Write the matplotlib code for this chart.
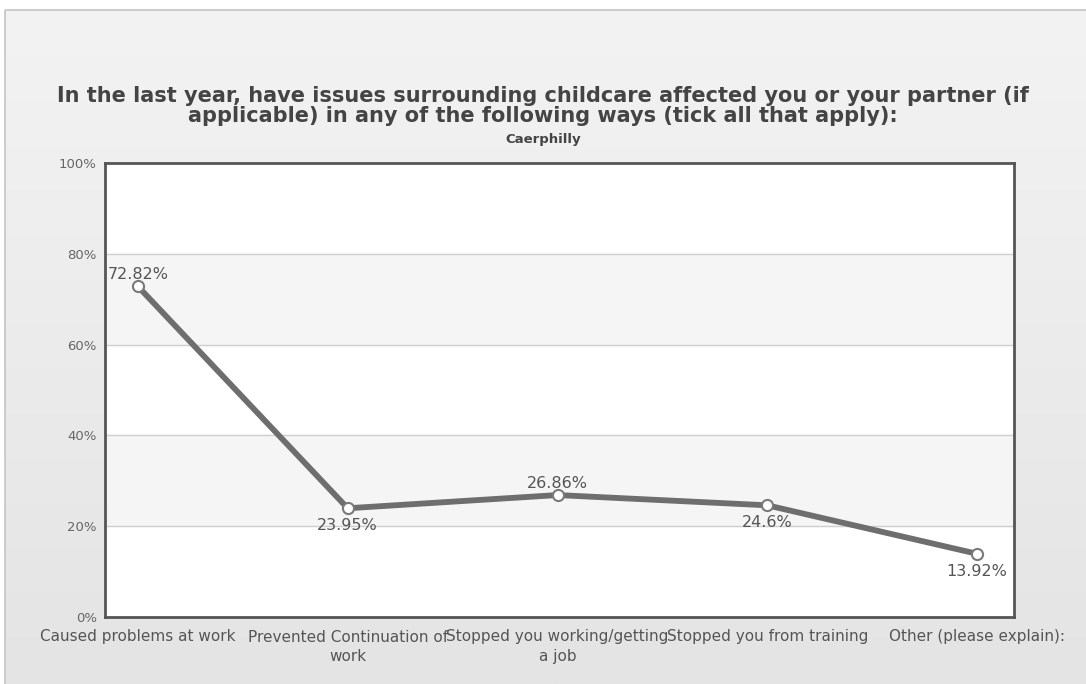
import matplotlib
matplotlib.use("Agg")
import matplotlib.pyplot as plt
import numpy as np
from matplotlib.patches import Rectangle

categories = ["Caused problems at work", "Prevented Continuation of\nwork",
              "Stopped you working/getting\na job", "Stopped you from training",
              "Other (please explain):"]
values = [72.82, 23.95, 26.86, 24.6, 13.92]
labels = ["72.82%", "23.95%", "26.86%", "24.6%", "13.92%"]
label_pos = ["above", "below", "above", "below", "below"]
yticks = [0, 20, 40, 60, 80, 100]
ytick_labels = ["0%", "20%", "40%", "60%", "80%", "100%"]

W, H = 1086, 684
fig = plt.figure(figsize=(W / 100, H / 100), dpi=100, facecolor="white")

# background gradient panel
bg = fig.add_axes([0, 0, 1, 1], zorder=-10)
bg.set_xlim(0, W)
bg.set_ylim(H, 0)
bg.axis("off")
grad = np.linspace(0, 1, 256).reshape(-1, 1)
bg.imshow(grad, extent=[5, W, H, 10], cmap=matplotlib.colors.LinearSegmentedColormap.from_list(
    "g", ["#f3f3f3", "#e4e4e4"]), aspect="auto", zorder=0)
bg.add_patch(Rectangle((5, 10), W, H, fill=False, edgecolor="#c4c4c4", linewidth=1.2, zorder=1))

ax = fig.add_axes([105 / W, 1 - 617 / H, (1014 - 105) / W, (617 - 163) / H])
ax.set_facecolor("white")
x = np.arange(len(categories))

# alternating bands
for i in range(0, 5):
    if i % 2 == 1:
        ax.axhspan(yticks[i], yticks[i + 1], color="#f5f5f5", zorder=0)
for yv in yticks[1:-1]:
    ax.axhline(yv, color="#cfcfcf", linewidth=1, zorder=1)

ax.plot(x, values, color="#6e6e6e", linewidth=4.2, solid_capstyle="round", zorder=3,
        marker="o", markersize=8, markerfacecolor="white", markeredgecolor="#7a7a7a",
        markeredgewidth=1.5)

for xi, v, lab, pos in zip(x, values, labels, label_pos):
    if pos == "above":
        ax.annotate(lab, (xi, v), xytext=(0, 3), textcoords="offset points",
                    ha="center", va="bottom", fontsize=11.5, color="#555555", zorder=4)
    else:
        ax.annotate(lab, (xi, v), xytext=(0, -7), textcoords="offset points",
                    ha="center", va="top", fontsize=11.5, color="#555555", zorder=4)

ax.set_xlim(-0.157, 4.176)
ax.set_ylim(0, 100)
ax.set_yticks(yticks)
ax.set_yticklabels(ytick_labels, fontsize=9.5, color="#666666")
ax.set_xticks(x)
ax.set_xticklabels(categories, fontsize=11, color="#555555", linespacing=1.4)
ax.tick_params(axis="both", length=0)
ax.tick_params(axis="x", pad=9)
ax.tick_params(axis="y", pad=6)
for s in ax.spines.values():
    s.set_color("#555555")
    s.set_linewidth(2)

fig.text(0.5, 1 - 106 / H, "In the last year, have issues surrounding childcare affected you or your partner (if\napplicable) in any of the following ways (tick all that apply):",
         ha="center", va="center", fontsize=15, fontweight="bold", color="#444444", linespacing=1.05)
fig.text(0.5, 1 - 140 / H, "Caerphilly", ha="center", va="center", fontsize=9.5,
         fontweight="bold", color="#444444")

fig.savefig("out.png", dpi=100, facecolor="white")
